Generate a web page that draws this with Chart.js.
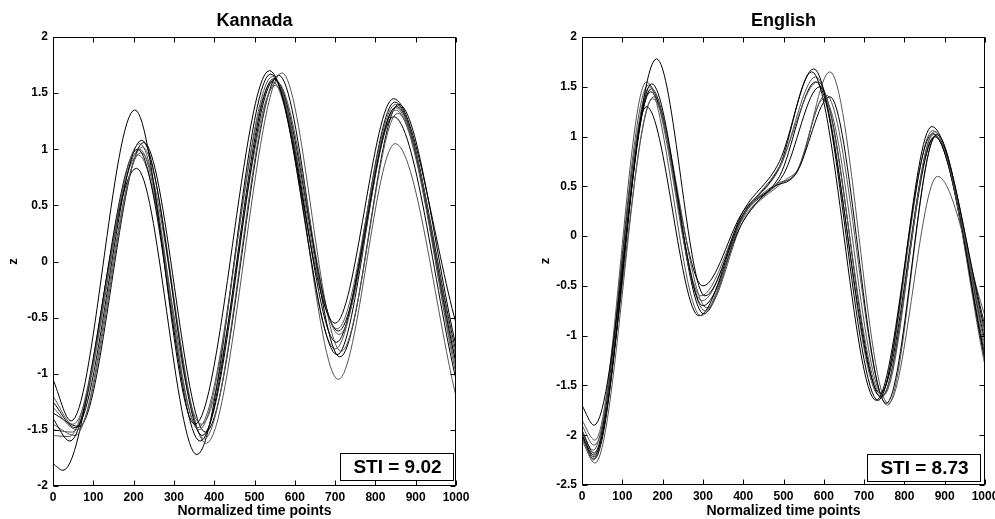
<!DOCTYPE html>
<html>
<head>
<meta charset="utf-8">
<script src="https://cdn.jsdelivr.net/npm/chart.js@4.4.1/dist/chart.umd.min.js"></script>
<style>
  html, body { margin: 0; padding: 0; background: #fff; overflow: hidden; width: 995px; height: 519px; }
  #wrapL { position: absolute; left: 0; top: 0; width: 495px; height: 519px; }
  #wrapR { position: absolute; left: 495px; top: 0; width: 510px; height: 519px; }
</style>
</head>
<body>
<div id="wrapL"><canvas id="cL" width="495" height="519"></canvas></div>
<div id="wrapR"><canvas id="cR" width="510" height="519"></canvas></div>
<script>
// ---------- data (x = normalized time point, y = z) ----------
const xTicks = [0, 100, 200, 300, 400, 500, 600, 700, 800, 900, 1000];
const kannadaYTicks = [-2, -1.5, -1, -0.5, 0, 0.5, 1, 1.5, 2];
const englishYTicks = [-2.5, -2, -1.5, -1, -0.5, 0, 0.5, 1, 1.5, 2];

const kan1 = [[0,-1.05],[45,-1.42],[203,1.35],[352,-1.45],[537,1.70],[700,-0.55],[845,1.45],[1000,-0.55]];
const kan2 = [[0,-1.20],[50,-1.45],[215,1.05],[362,-1.50],[545,1.65],[705,-0.60],[850,1.40],[1000,-0.85]];
const kan3 = [[0,-1.25],[55,-1.48],[220,1.08],[370,-1.55],[550,1.62],[708,-0.62],[852,1.38],[1000,-0.90]];
const kan4 = [[0,-1.30],[60,-1.50],[222,1.02],[375,-1.58],[555,1.60],[710,-0.65],[850,1.35],[1000,-0.95]];
const kan5 = [[0,-1.40],[42,-1.60],[210,1.00],[365,-1.60],[548,1.63],[703,-0.72],[848,1.42],[1000,-0.80]];
const kan6 = [[0,-1.45],[55,-1.55],[218,0.97],[380,-1.62],[568,1.68],[715,-0.80],[855,1.32],[1000,-1.00]];
const kan7 = [[0,-1.80],[25,-1.86],[207,0.83],[357,-1.72],[540,1.67],[705,-0.83],[845,1.29],[1000,-1.05]];
const kan8 = [[0,-1.55],[40,-1.56],[212,0.95],[368,-1.45],[552,1.57],[708,-1.05],[849,1.05],[1000,-1.20]];
const kan9 = [[0,-1.35],[65,-1.47],[225,1.06],[378,-1.52],[560,1.66],[712,-0.85],[858,1.40],[1000,-0.75]];
const kan10 = [[0,-1.50],[48,-1.52],[215,1.00],[360,-1.48],[545,1.60],[700,-0.78],[850,1.37],[1000,-0.90]];

const eng1 = [[0,-1.70],[30,-1.90],[185,1.78],[305,-0.60],[400,0.25],[490,0.75],[575,1.68],[735,-1.65],[868,1.10],[1000,-0.90]];
const eng2 = [[0,-1.85],[32,-2.05],[160,1.55],[295,-0.80],[400,0.20],[490,0.70],[585,1.55],[745,-1.60],[875,1.05],[1000,-1.10]];
const eng3 = [[0,-2.00],[30,-2.20],[173,1.53],[300,-0.70],[400,0.15],[470,0.48],[530,0.62],[615,1.40],[755,-1.68],[880,1.02],[1000,-1.25]];
const eng4 = [[0,-2.00],[28,-2.25],[168,1.50],[305,-0.75],[400,0.20],[480,0.52],[530,0.63],[605,1.42],[758,-1.70],[878,1.00],[1000,-1.30]];
const eng5 = [[0,-1.95],[30,-2.18],[160,1.30],[290,-0.80],[400,0.22],[490,0.70],[570,1.65],[730,-1.65],[870,1.03],[1000,-1.05]];
const eng6 = [[0,-2.05],[32,-2.28],[175,1.38],[310,-0.72],[400,0.15],[500,0.55],[540,0.70],[615,1.65],[760,-1.68],[882,0.60],[1000,-0.80]];
const eng7 = [[0,-2.00],[30,-2.22],[170,1.45],[300,-0.50],[400,0.25],[490,0.60],[580,1.55],[740,-1.58],[875,1.00],[1000,-1.20]];
const eng8 = [[0,-1.98],[28,-2.15],[165,1.52],[298,-0.65],[400,0.18],[480,0.50],[535,0.66],[600,1.38],[748,-1.60],[872,1.02],[1000,-1.15]];
const eng9 = [[0,-2.02],[30,-2.24],[172,1.48],[302,-0.78],[400,0.20],[500,0.62],[590,1.50],[742,-1.62],[876,1.00],[1000,-0.95]];
const eng10 = [[0,-1.90],[30,-2.10],[178,1.40],[295,-0.60],[400,0.22],[490,0.68],[580,1.60],[738,-1.60],[870,1.06],[1000,-1.00]];

const kannadaSeries = [kan1, kan2, kan3, kan4, kan5, kan6, kan7, kan8, kan9, kan10];
const englishSeries = [eng1, eng2, eng3, eng4, eng5, eng6, eng7, eng8, eng9, eng10];
const lineColors = ['#000000', '#555555'];

// ---------- drawing helpers ----------
const FONT = "'Liberation Sans', Arial, sans-serif";

const framePlugin = {
  id: 'frame',
  afterDatasetsDraw(chart, args, opts) {
    const { ctx, chartArea: a, scales } = chart;
    const xs = scales.x, ys = scales.y;
    ctx.save();
    ctx.strokeStyle = '#000';
    ctx.lineWidth = 1;
    const L = Math.round(a.left) + 0.5, R = Math.round(a.right) - 0.5;
    const T = Math.round(a.top) + 0.5, B = Math.round(a.bottom) - 0.5;
    ctx.strokeRect(L, T, R - L, B - T);
    const tl = 5;
    ctx.beginPath();
    xs.ticks.forEach(t => {
      const px = Math.round(xs.getPixelForValue(t.value)) + 0.5;
      ctx.moveTo(px, B); ctx.lineTo(px, B - tl);
      ctx.moveTo(px, T); ctx.lineTo(px, T + tl);
    });
    ys.ticks.forEach(t => {
      const py = Math.round(ys.getPixelForValue(t.value)) + 0.5;
      ctx.moveTo(L, py); ctx.lineTo(L + tl, py);
      ctx.moveTo(R, py); ctx.lineTo(R - tl, py);
    });
    ctx.stroke();

    const cx = (a.left + a.right) / 2;
    ctx.fillStyle = '#000';
    // title
    ctx.font = 'bold 18px ' + FONT;
    ctx.textAlign = 'center';
    ctx.textBaseline = 'alphabetic';
    ctx.fillText(opts.title, cx, 26);
    // x axis label
    ctx.font = 'bold 14px ' + FONT;
    ctx.textBaseline = 'middle';
    ctx.fillText('Normalized time points', cx, 511);
    // y axis label
    ctx.save();
    ctx.translate(opts.zX, (a.top + a.bottom) / 2);
    ctx.rotate(-Math.PI / 2);
    ctx.font = 'bold 13px ' + FONT;
    ctx.fillText('z', 0, 0);
    ctx.restore();
    // STI box
    const bx = opts.box;
    ctx.fillStyle = '#fff';
    ctx.fillRect(bx[0], bx[1], bx[2], bx[3]);
    ctx.strokeRect(bx[0] + 0.5, bx[1] + 0.5, bx[2], bx[3]);
    ctx.fillStyle = '#000';
    ctx.font = 'bold 19px ' + FONT;
    ctx.textBaseline = 'middle';
    ctx.fillText(opts.sti, bx[0] + bx[2] / 2 + 1, bx[1] + bx[3] / 2 + 1);
    ctx.restore();
  }
};

function makeChart(canvasId, series, yTicks, yMin, yMax, yWidth, xHeight, padRight, opts) {
  const datasets = series.map((pts, i) => ({
    data: pts.map(p => ({ x: p[0], y: p[1] })),
    borderColor: lineColors[i % 2],
    borderWidth: 1,
    pointRadius: 0,
    fill: false,
    cubicInterpolationMode: 'monotone'
  }));
  return new Chart(document.getElementById(canvasId), {
    type: 'line',
    data: { datasets },
    options: {
      responsive: false,
      animation: false,
      devicePixelRatio: 1,
      layout: { padding: { left: 0, top: 37, right: padRight, bottom: 0 } },
      plugins: { legend: { display: false }, tooltip: { enabled: false }, frame: opts },
      scales: {
        x: {
          type: 'linear', min: 0, max: 1000,
          afterBuildTicks: s => { s.ticks = xTicks.map(v => ({ value: v })); },
          afterFit: s => { s.height = xHeight; },
          grid: { display: false, drawTicks: false },
          border: { display: false },
          ticks: { color: '#000', padding: 4, maxRotation: 0, autoSkip: false,
                   callback: v => String(v),
                   font: { family: FONT, size: 12, weight: 'bold' } }
        },
        y: {
          type: 'linear', min: yMin, max: yMax,
          afterBuildTicks: s => { s.ticks = yTicks.map(v => ({ value: v })); },
          afterFit: s => { s.width = yWidth; },
          grid: { display: false, drawTicks: false },
          border: { display: false },
          ticks: { color: '#000', padding: 5, autoSkip: false,
                   callback: v => String(v),
                   font: { family: FONT, size: 12, weight: 'bold' } }
        }
      }
    },
    plugins: [framePlugin]
  });
}

makeChart('cL', kannadaSeries, kannadaYTicks, -2, 2, 53, 33, 39,
  { title: 'Kannada', sti: 'STI = 9.02', zX: 13, box: [340, 453, 113, 27] });
makeChart('cR', englishSeries, englishYTicks, -2.5, 2, 87, 34, 20,
  { title: 'English', sti: 'STI = 8.73', zX: 50, box: [372, 454, 113, 27] });
</script>
</body>
</html>
